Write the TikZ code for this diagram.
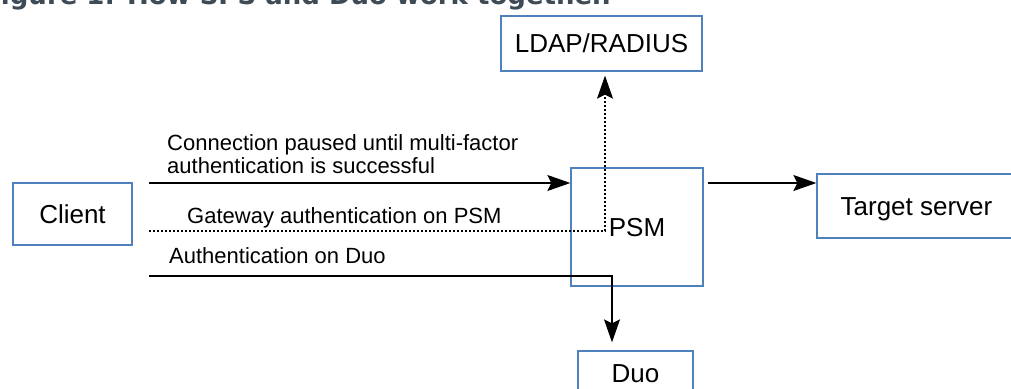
\documentclass[tikz,border=0pt]{standalone}
\usepackage{fontspec}
\setmainfont{Liberation Sans}
\newfontfamily\titlefont{DejaVu Sans}
\usetikzlibrary{calc}
\usetikzlibrary{arrows.meta}
\definecolor{boxblue}{RGB}{79,129,189}
\definecolor{titlegray}{RGB}{61,75,87}

\begin{document}
\begin{tikzpicture}[x=1pt, y=-1pt,
  box/.style={draw=boxblue, line width=1.3pt, inner sep=0pt, font=\fontsize{26}{30}\selectfont, text height=18.6pt, text depth=0pt},
  lbl/.style={inner sep=0pt, anchor=base west, font=\fontsize{22}{23}\selectfont},
  link/.style={line width=1.4pt},
  >={Stealth[length=23pt, width=16pt, inset=4pt]}]

\useasboundingbox (0,0) rectangle (1011,388);
\clip (0,0) rectangle (1011,388);

\node[anchor=base west, inner sep=0pt, text=titlegray, font=\titlefont\bfseries\fontsize{26}{30}\selectfont] (title) at (-17,5) {Figure 1: How SPS and Duo work together.};

\node[box, minimum width=119pt, minimum height=62pt] (client) at (72.5,214) {Client};
\node[box, minimum width=201pt, minimum height=55pt] (ldap) at (601.5,43.5) {LDAP/RADIUS};
\node[box, minimum width=132pt, minimum height=118pt] (psm) at (637,227) {PSM};
\node[box, minimum width=199pt, minimum height=64pt] (target) at (916.5,206) {Target server};
\node[box, minimum width=115pt, minimum height=45pt] (duo) at (635.5,373.5) {Duo};

\node[lbl, align=left] (pause) at (167,173) {Connection paused until multi-factor\\authentication is successful};
\node[lbl] (gateway) at (187,223) {Gateway authentication on PSM};
\node[lbl] (duoauth) at (169,263) {Authentication on Duo};

\coordinate (pausestart) at (149,183);
\coordinate (gwstart) at (149,231);
\coordinate (duostart) at (149,276);

\draw[link, ->] (pausestart) -- (pausestart -| psm.west);
\draw[line width=1.2pt, dash pattern=on 2pt off 2pt, ->, shorten >=4pt] (gwstart) -| ($(ldap.south)+(3.5,0)$);
\draw[link, ->, shorten >=8pt] (duostart) -| ($(duo.north)+(-23.5,0)$);
\draw[link, ->, shorten <=4pt] (psm.east |- pausestart) -- (target.west |- pausestart);

\end{tikzpicture}
\end{document}
